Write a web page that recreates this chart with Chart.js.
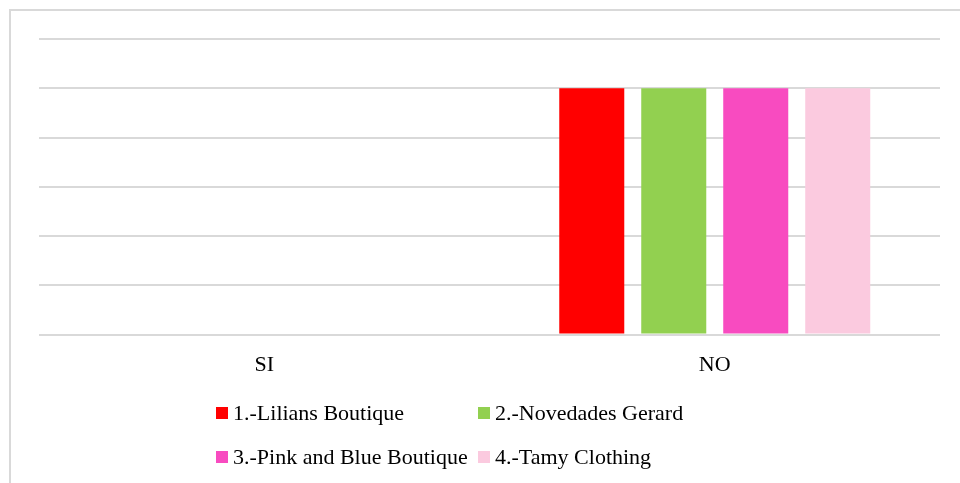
<!DOCTYPE html>
<html>
<head>
<meta charset="utf-8">
<script src="https://cdn.jsdelivr.net/npm/chart.js@4/dist/chart.umd.min.js"></script>
<style>
  html, body { margin: 0; padding: 0; background: #fff; overflow: hidden; }
  #wrap { position: relative; width: 960px; height: 483px; }
  #frame { position: absolute; left: 9px; top: 9px; width: 1000px; height: 500px;
           border-left: 2px solid #d9d9d9; border-top: 2px solid #d9d9d9; }
  #chart { position: absolute; left: 0; top: 0; }
  #legend { position: absolute; left: 216px; top: 399px; display: grid;
            grid-template-columns: 262px auto; row-gap: 16px;
            font-family: "Liberation Serif", "Times New Roman", serif; font-size: 22px; color: #000; }
  .item { display: flex; align-items: center; height: 28px; white-space: nowrap; }
  .box { width: 12px; height: 12px; margin-right: 5px; flex: none; }
</style>
</head>
<body>
<div id="wrap">
  <div id="frame"></div>
  <canvas id="chart" width="960" height="483"></canvas>
  <div id="legend"></div>
</div>
<script>
'use strict';
// answers per boutique: SI / NO
const categories = ['SI', 'NO'];
const seriesNames = ['1.-Lilians Boutique', '2.-Novedades Gerard', '3.-Pink and Blue Boutique', '4.-Tamy Clothing'];
const lilians = [0, 1];
const gerard = [0, 1];
const pinkBlue = [0, 1];
const tamy = [0, 1];
const colors = ['#ff0000', '#92d050', '#f84bc0', '#fbcadf'];
const yMax = 1.2;
const yStep = 0.2;

const font = { family: '"Liberation Serif", "Times New Roman", serif', size: 22 };

const datasets = [lilians, gerard, pinkBlue, tamy].map((data, i) => ({
  label: seriesNames[i],
  data,
  backgroundColor: colors[i],
  borderWidth: 0,
  barPercentage: 0.793,
  categoryPercentage: 0.728
}));

const chart = new Chart(document.getElementById('chart'), {
  type: 'bar',
  data: { labels: categories, datasets },
  options: {
    responsive: false,
    animation: false,
    layout: { padding: { left: 39, right: 20, top: 39, bottom: 88 } },
    plugins: { legend: { display: false }, tooltip: { enabled: false } },
    scales: {
      x: {
        grid: { display: false, drawTicks: false },
        border: { display: false },
        ticks: { color: '#000', font, padding: 17 }
      },
      y: {
        min: 0, max: yMax,
        ticks: { display: false, stepSize: yStep },
        grid: { color: '#d9d9d9', lineWidth: 2, drawTicks: false },
        border: { display: false }
      }
    }
  }
});

// legend laid out in two columns like the original
const legend = document.getElementById('legend');
chart.data.datasets.forEach(ds => {
  const item = document.createElement('div');
  item.className = 'item';
  item.innerHTML = `<span class="box" style="background:${ds.backgroundColor}"></span><span>${ds.label}</span>`;
  legend.appendChild(item);
});
</script>
</body>
</html>
